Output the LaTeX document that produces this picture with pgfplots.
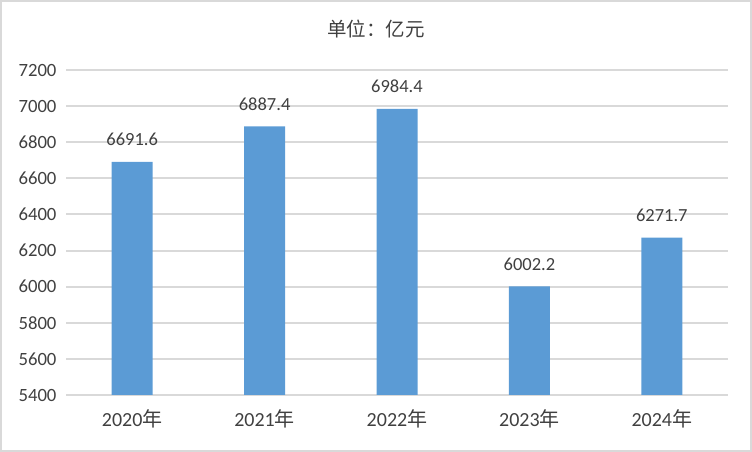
\documentclass[border=0pt]{standalone}
\usepackage{pgfplots}
\pgfplotsset{compat=1.18}
\usepackage{fontspec}
\setmainfont{Carlito}
\newfontfamily\cjk{Noto Sans CJK SC}
\definecolor{barblue}{HTML}{5B9BD5}
\definecolor{gridgray}{HTML}{D9D9D9}
\definecolor{txt}{HTML}{404040}
\begin{document}
\begin{tikzpicture}[x=1pt,y=1pt]
\draw[color=gridgray, line width=2pt] (1,1) rectangle (751,451);
\node[anchor=base, color=txt, font=\cjk\fontsize{19.5}{23}\selectfont] at (376,415) {单位：亿元};
\begin{axis}[at={(66pt,57pt)}, anchor=south west, scale only axis,
  width=662pt, height=325pt,
  xmin=-0.5, xmax=4.5, ymin=5400, ymax=7200,
  ytick={5400,5600,...,7200},
  xtick={0,1,2,3,4},
  xticklabels={2020{\cjk 年},2021{\cjk 年},2022{\cjk 年},2023{\cjk 年},2024{\cjk 年}},
  axis line style={draw=none},
  ymajorgrids, grid style={gridgray, line width=2pt},
  major tick length=0pt,
  tick label style={color=txt},
  /pgf/number format/assume math mode=true,
  yticklabel style={font=\fontsize{18.7}{22}\selectfont, /pgf/number format/1000 sep={}, xshift=-6pt},
  xticklabel style={font=\fontsize{20}{24}\selectfont, anchor=base, yshift=-32pt},
  ybar, bar width=41pt,
  clip=false,
  nodes near coords,
  nodes near coords style={anchor=base, yshift=16pt, color=txt, font=\fontsize{18.5}{22}\selectfont,
    /pgf/number format/.cd, fixed, fixed zerofill, precision=1, 1000 sep={}, assume math mode=true},
]
\addplot[fill=barblue, draw=none] coordinates {(0,6691.6) (1,6887.4) (2,6984.4) (3,6002.2) (4,6271.7)};
\end{axis}
\end{tikzpicture}
\end{document}
